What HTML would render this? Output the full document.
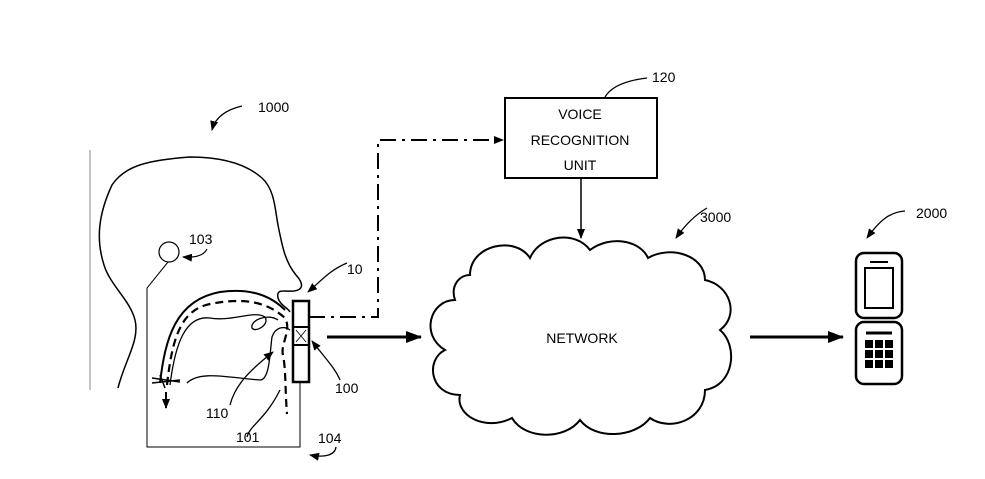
<!DOCTYPE html>
<html><head><style>body{margin:0;background:#fff}svg{display:block}text{font-family:"Liberation Sans",sans-serif;font-size:14px;fill:#000}</style></head>
<body>
<svg width="985" height="479" viewBox="0 0 985 479" xmlns="http://www.w3.org/2000/svg">
<defs>
<marker id="ah" markerWidth="10" markerHeight="8" refX="9" refY="4" orient="auto" markerUnits="userSpaceOnUse"><path d="M0,0 L10,4 L0,8 Z" fill="#000"/></marker>
<marker id="ahb" markerWidth="16" markerHeight="12" refX="15" refY="6" orient="auto" markerUnits="userSpaceOnUse"><path d="M0,0 L16,6 L0,12 Z" fill="#000"/></marker>
</defs>
<g fill="none" stroke="#000">
<line x1="90" y1="150" x2="90" y2="390" stroke="#888" stroke-width="1"/>
<path d="M118,388 C125,360 140,340 135,320 C130,300 110,285 104,265 C96,240 98,215 112,185 C125,165 150,160 190,157 C220,157 245,163 262,178 C275,190 275,210 278,225 C282,245 285,262 296,275 C305,285 302,290 294,291 C284,292 276,288 278,298 C280,305 288,308 290,312" stroke-width="1.5"/>
<path d="M242,106 C225,110 215,118 212,130" stroke-width="1.3" marker-end="url(#ah)"/>
<path d="M207,249 C204,255 196,258 183,257" stroke-width="1.2" marker-end="url(#ah)"/>
<path d="M347,263 C330,270 322,280 308,292" stroke-width="1.3" marker-end="url(#ah)"/>
<path d="M340,380 C335,368 325,358 312,341" stroke-width="1.3" marker-end="url(#ah)"/>
<path d="M230,405 C235,385 250,370 273,352" stroke-width="1.3" marker-end="url(#ah)"/>
<path d="M247,437 C250,425 265,420 280,390" stroke-width="1.3"/>
<path d="M336,447 C335,455 325,458 310,455" stroke-width="1.3" marker-end="url(#ah)"/>
<path d="M605,97 C612,85 630,80 647,78" stroke-width="1.3"/>
<path d="M707,208 C695,215 685,225 676,238" stroke-width="1.3" marker-end="url(#ah)"/>
<path d="M905,211 C890,212 880,220 867,238" stroke-width="1.3" marker-end="url(#ah)"/>
<circle cx="169" cy="252" r="10" stroke-width="1.2"/>
<path d="M168,262 L147,288 L147,447 L300,447 L300,378" stroke-width="1"/>
<path d="M160,383 C165,340 175,300 220,292 C250,288 270,295 285,310" stroke-width="2"/>
<path d="M170,385 C175,345 185,315 210,318 C230,322 255,310 265,317 C270,325 255,333 252,328 C250,320 268,313 278,320" stroke-width="1.3"/>
<path d="M187,383 C200,370 230,378 260,380 C270,380 270,350 272,337 C275,328 283,325 290,330" stroke-width="1.3"/>
<path d="M167,385 C172,340 180,310 210,304 C240,298 265,300 285,318 C292,330 280,345 283,355 C286,370 285,390 287,414" stroke-width="2.2" stroke-dasharray="8,5"/>
<path d="M152,378 L180,382 M152,383 L180,380 M160,375 L165,388" stroke-width="1.5"/>
<path d="M166,392 L166,408" stroke-width="2" marker-end="url(#ah)"/>
<rect x="293" y="301" width="16" height="81" stroke-width="2.5" fill="#fff"/>
<line x1="293" y1="327" x2="309" y2="327" stroke-width="2"/>
<line x1="293" y1="345" x2="309" y2="345" stroke-width="2"/>
<path d="M296,330 L306,342 M306,330 L296,342" stroke-width="0.8"/>
<path d="M309,317 L378,317 L378,140 L503,140" stroke-width="2" stroke-dasharray="16,6,3,6" marker-end="url(#ah)"/>
<rect x="505" y="98" width="152" height="80" stroke-width="2"/>
<line x1="581" y1="178" x2="581" y2="238" stroke-width="1.5" marker-end="url(#ah)"/>
<line x1="327" y1="337" x2="421" y2="337" stroke-width="3" marker-end="url(#ahb)"/>
<line x1="750" y1="337" x2="843" y2="337" stroke-width="3" marker-end="url(#ahb)"/>
<path d="M470,275 C470,245 515,235 530,258 C540,235 575,230 590,250 C610,235 640,240 648,258 C670,245 705,255 705,280 C730,285 740,315 720,330 C738,345 735,385 705,390 C705,420 670,432 650,418 C635,438 595,440 580,420 C565,440 525,440 512,418 C485,432 455,415 460,395 C430,395 425,360 445,350 C420,335 430,300 455,300 C450,285 460,275 470,275 Z" stroke-width="2"/>
<rect x="856" y="253" width="46" height="65" rx="8" stroke-width="2.5"/>
<rect x="865" y="268" width="28" height="40" stroke-width="2"/>
<line x1="870" y1="262" x2="888" y2="262" stroke-width="2"/>
<rect x="856" y="322" width="46" height="62" rx="8" stroke-width="2.5"/>
<path d="M866,333 L892,333" stroke-width="3"/>
</g>
<g fill="#000">
<rect x="865" y="340" width="8" height="8"/><rect x="875" y="340" width="8" height="8"/><rect x="885" y="340" width="8" height="8"/>
<rect x="865" y="350" width="8" height="8"/><rect x="875" y="350" width="8" height="8"/><rect x="885" y="350" width="8" height="8"/>
<rect x="865" y="360" width="8" height="8"/><rect x="875" y="360" width="8" height="8"/><rect x="885" y="360" width="8" height="8"/>
</g>
<text x="258" y="112">1000</text>
<text x="189" y="244">103</text>
<text x="347" y="274">10</text>
<text x="335" y="393">100</text>
<text x="206" y="418">110</text>
<text x="236" y="442">101</text>
<text x="318" y="443">104</text>
<text x="652" y="82">120</text>
<text x="700" y="222">3000</text>
<text x="916" y="218">2000</text>
<g text-anchor="middle" style="font-size:15px">
<text x="580" y="119">VOICE</text>
<text x="580" y="145">RECOGNITION</text>
<text x="580" y="170">UNIT</text>
<text x="582" y="343">NETWORK</text>
</g>
</svg>
</body></html>
